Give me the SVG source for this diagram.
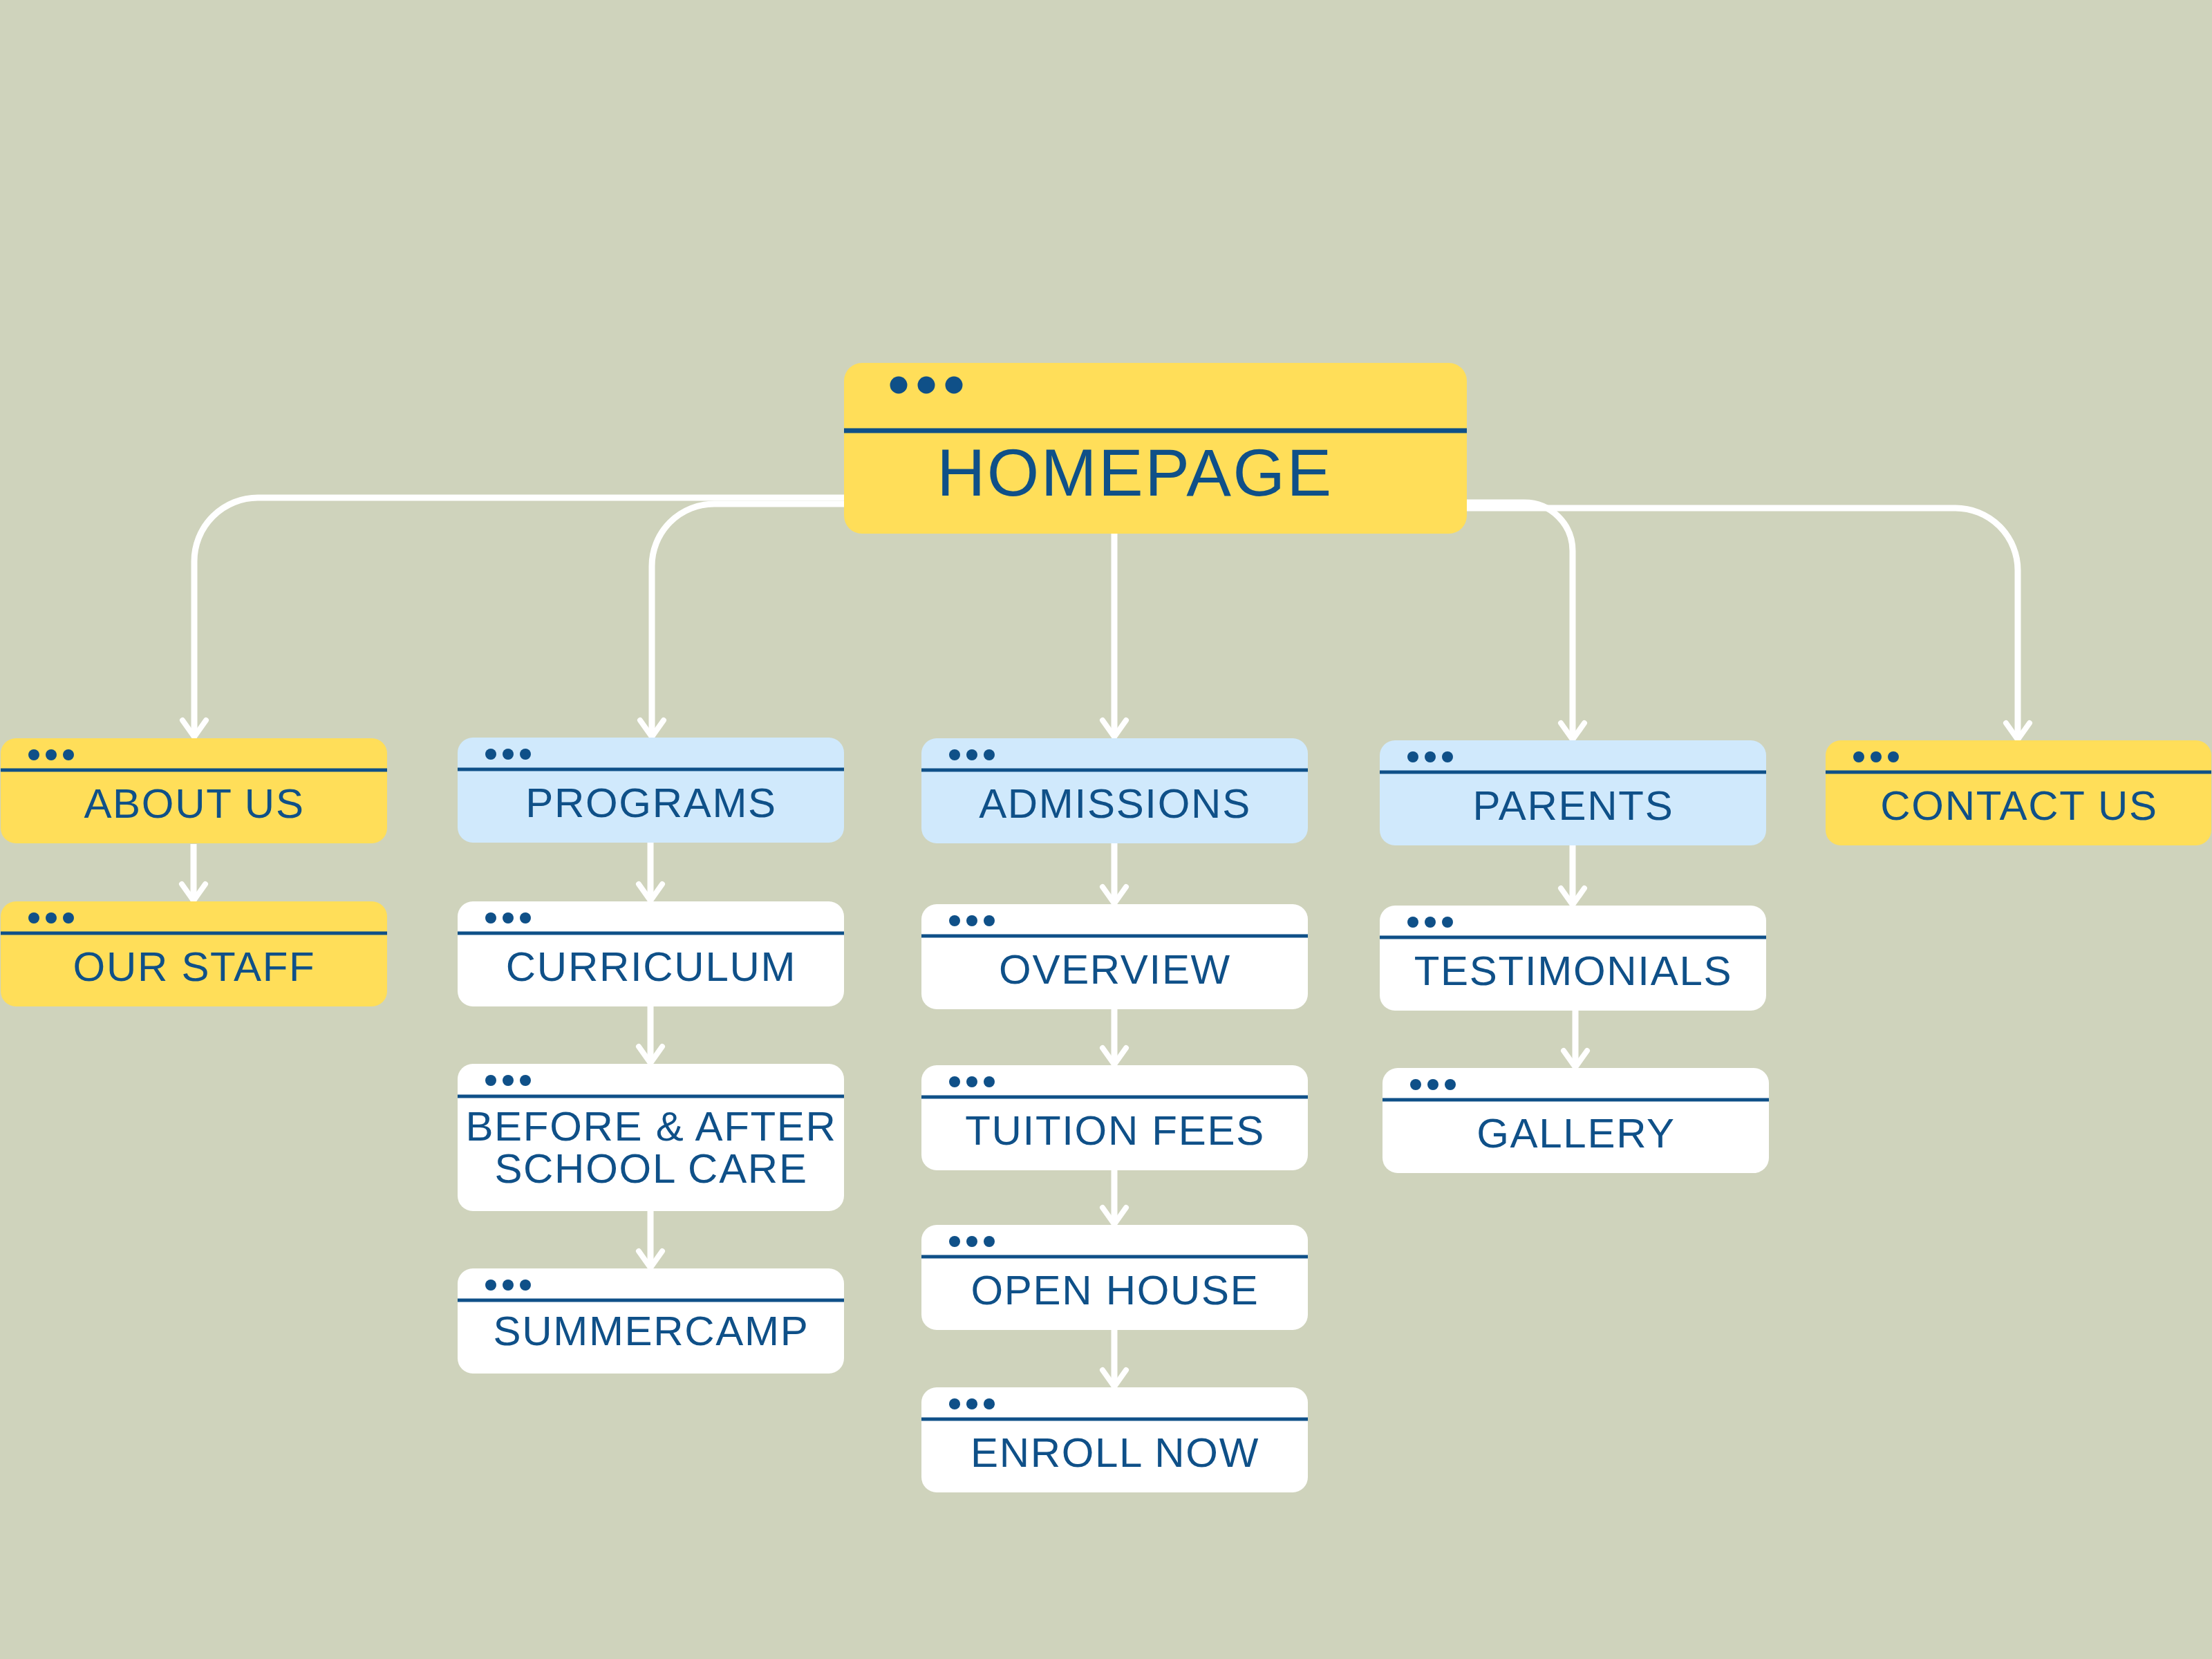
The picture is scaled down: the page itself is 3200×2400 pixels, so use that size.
<svg xmlns="http://www.w3.org/2000/svg" width="3200" height="2400" viewBox="0 0 3200 2400">
<defs>
<style>
.bg{fill:#CFD3BC}
.y{fill:#FFDE59}
.b{fill:#D0E9FC}
.w{fill:#FFFFFF}
.div{stroke:#0F5088;stroke-width:5}
.dot{fill:#0F5088}
.lbl{font-family:"Liberation Sans",Arial,sans-serif;font-size:60px;letter-spacing:1.7px;fill:#0F5088;text-anchor:middle}
.conn{fill:none;stroke:#FFFFFF;stroke-width:9;marker-end:url(#arr)}
</style>
<marker id="arr" viewBox="-30 -25 40 50" refX="0" refY="0" markerWidth="40" markerHeight="50" markerUnits="userSpaceOnUse" orient="auto">
<path d="M -24 -17 L 0 0 L -24 17" fill="none" stroke="#FFFFFF" stroke-width="8" stroke-linecap="round" stroke-linejoin="round"/>
</marker>
<g id="dots"><circle cx="48" cy="24" r="8"/><circle cx="73" cy="24" r="8"/><circle cx="98" cy="24" r="8"/></g>
</defs>
<rect class="bg" x="0" y="0" width="3200" height="2400"/>

<g id="connectors">
<path class="conn" d="M 1221 720 H 373 A 92 92 0 0 0 281 812 V 1066"/>
<path class="conn" d="M 1221 729 H 1033 A 90 90 0 0 0 943 819 V 1066"/>
<path class="conn" d="M 1612 772 V 1066"/>
<path class="conn" d="M 2122 727 H 2205 A 70 70 0 0 1 2275 797 V 1070"/>
<path class="conn" d="M 2122 735 H 2829 A 90 90 0 0 1 2919 825 V 1070"/>
<path class="conn" d="M 280 1221 V 1303"/>
<path class="conn" d="M 941 1219 V 1303"/>
<path class="conn" d="M 941 1456 V 1538"/>
<path class="conn" d="M 941 1752 V 1834"/>
<path class="conn" d="M 1612 1220 V 1307"/>
<path class="conn" d="M 1612 1460 V 1540"/>
<path class="conn" d="M 1612 1693 V 1771"/>
<path class="conn" d="M 1612 1924 V 2006"/>
<path class="conn" d="M 2275 1223 V 1309"/>
<path class="conn" d="M 2279 1462 V 1544"/>
</g>

<g id="homepage">
<rect class="y" x="1221" y="525" width="901" height="247" rx="26"/>
<line x1="1221" y1="623" x2="2122" y2="623" stroke="#0F5088" stroke-width="7"/>
<circle class="dot" cx="1300" cy="557" r="12.5"/><circle class="dot" cx="1340" cy="557" r="12.5"/><circle class="dot" cx="1380" cy="557" r="12.5"/>
<text class="lbl" x="1642" y="717" style="font-size:97px;letter-spacing:2.5px">HOMEPAGE</text>
</g>

<g id="about-us" transform="translate(1,1068)">
<rect class="y" width="559" height="152" rx="22"/>
<line class="div" x1="0" y1="46" x2="559" y2="46"/>
<use href="#dots" class="dot"/>
<text class="lbl" x="280" y="115">ABOUT US</text>
</g>
<g id="our-staff" transform="translate(1,1304)">
<rect class="y" width="559" height="152" rx="22"/>
<line class="div" x1="0" y1="46" x2="559" y2="46"/>
<use href="#dots" class="dot"/>
<text class="lbl" x="280" y="115">OUR STAFF</text>
</g>

<g id="programs" transform="translate(662,1067)">
<rect class="b" width="559" height="152" rx="22"/>
<line class="div" x1="0" y1="46" x2="559" y2="46"/>
<use href="#dots" class="dot"/>
<text class="lbl" x="280" y="115">PROGRAMS</text>
</g>
<g id="curriculum" transform="translate(662,1304)">
<rect class="w" width="559" height="152" rx="22"/>
<line class="div" x1="0" y1="46" x2="559" y2="46"/>
<use href="#dots" class="dot"/>
<text class="lbl" x="280" y="115">CURRICULUM</text>
</g>
<g id="before-after" transform="translate(662,1539)">
<rect class="w" width="559" height="213" rx="22"/>
<line class="div" x1="0" y1="47" x2="559" y2="47"/>
<use href="#dots" class="dot"/>
<text class="lbl" x="280" y="111">BEFORE &amp; AFTER</text>
<text class="lbl" x="280" y="172">SCHOOL CARE</text>
</g>
<g id="summercamp" transform="translate(662,1835)">
<rect class="w" width="559" height="152" rx="22"/>
<line class="div" x1="0" y1="46" x2="559" y2="46"/>
<use href="#dots" class="dot"/>
<text class="lbl" x="280" y="111">SUMMERCAMP</text>
</g>

<g id="admissions" transform="translate(1333,1068)">
<rect class="b" width="559" height="152" rx="22"/>
<line class="div" x1="0" y1="46" x2="559" y2="46"/>
<use href="#dots" class="dot"/>
<text class="lbl" x="280" y="115">ADMISSIONS</text>
</g>
<g id="overview" transform="translate(1333,1308)">
<rect class="w" width="559" height="152" rx="22"/>
<line class="div" x1="0" y1="46" x2="559" y2="46"/>
<use href="#dots" class="dot"/>
<text class="lbl" x="280" y="115">OVERVIEW</text>
</g>
<g id="tuition-fees" transform="translate(1333,1541)">
<rect class="w" width="559" height="152" rx="22"/>
<line class="div" x1="0" y1="46" x2="559" y2="46"/>
<use href="#dots" class="dot"/>
<text class="lbl" x="280" y="115">TUITION FEES</text>
</g>
<g id="open-house" transform="translate(1333,1772)">
<rect class="w" width="559" height="152" rx="22"/>
<line class="div" x1="0" y1="46" x2="559" y2="46"/>
<use href="#dots" class="dot"/>
<text class="lbl" x="280" y="115">OPEN HOUSE</text>
</g>
<g id="enroll-now" transform="translate(1333,2007)">
<rect class="w" width="559" height="152" rx="22"/>
<line class="div" x1="0" y1="46" x2="559" y2="46"/>
<use href="#dots" class="dot"/>
<text class="lbl" x="280" y="115">ENROLL NOW</text>
</g>

<g id="parents" transform="translate(1996,1071)">
<rect class="b" width="559" height="152" rx="22"/>
<line class="div" x1="0" y1="46" x2="559" y2="46"/>
<use href="#dots" class="dot"/>
<text class="lbl" x="280" y="115">PARENTS</text>
</g>
<g id="testimonials" transform="translate(1996,1310)">
<rect class="w" width="559" height="152" rx="22"/>
<line class="div" x1="0" y1="46" x2="559" y2="46"/>
<use href="#dots" class="dot"/>
<text class="lbl" x="280" y="115">TESTIMONIALS</text>
</g>
<g id="gallery" transform="translate(2000,1545)">
<rect class="w" width="559" height="152" rx="22"/>
<line class="div" x1="0" y1="46" x2="559" y2="46"/>
<use href="#dots" class="dot"/>
<text class="lbl" x="280" y="115">GALLERY</text>
</g>

<g id="contact-us" transform="translate(2641,1071)">
<rect class="y" width="558" height="152" rx="22"/>
<line class="div" x1="0" y1="46" x2="558" y2="46"/>
<use href="#dots" class="dot"/>
<text class="lbl" x="280" y="115">CONTACT US</text>
</g>
</svg>
